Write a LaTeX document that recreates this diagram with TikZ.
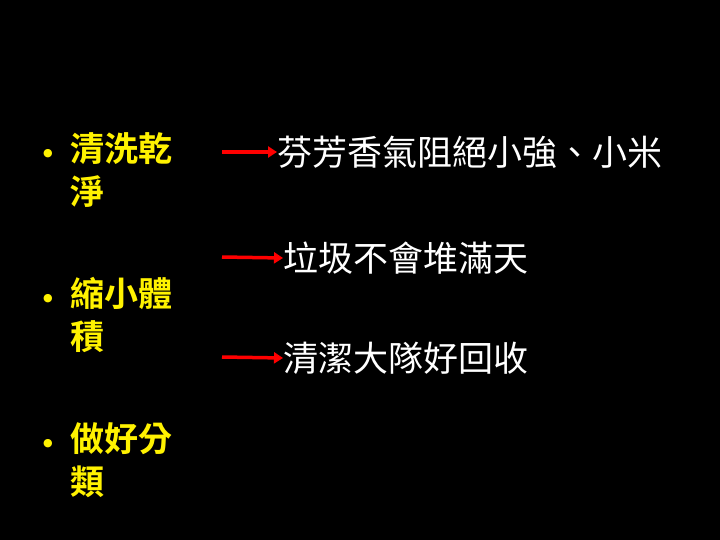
\documentclass[tikz,border=0pt]{standalone}
\usepackage{fontspec}
\newfontfamily\cjk{Noto Sans CJK TC}
\newfontfamily\cjkb{Noto Sans CJK TC Bold}
\newfontfamily\dvs{DejaVu Sans}
\usetikzlibrary{arrows.meta}
\begin{document}
\begin{tikzpicture}[x=1pt,y=-1pt,
  lt/.style={anchor=west,inner sep=0,text=yellow,font=\cjkb\fontsize{34}{43}\selectfont,align=left},
  rt/.style={anchor=west,inner sep=0,text=white,font=\cjk\fontsize{35}{40}\selectfont},
  bul/.style={anchor=center,inner sep=0,text=yellow,font=\dvs\fontsize{11}{11}\selectfont},
  arr/.style={draw=red,line width=3.5pt,-{Triangle[length=9pt,width=11pt]}}]
\fill[black] (0,0) rectangle (720,540);
\node[bul] (b1) at (48,154) {●};
\node[lt,anchor=north west] (l1) at (70,132) {清洗乾\\淨};
\node[bul] (b2) at (48,299) {●};
\node[lt,anchor=north west] (l2) at (70,277) {縮小體\\積};
\node[bul] (b3) at (48,444) {●};
\node[lt,anchor=north west] (l3) at (70,422) {做好分\\類};
\node[rt] (r1) at (277,152) {芬芳香氣阻絕小強、小米};
\node[rt] (r2) at (283,258) {垃圾不會堆滿天};
\node[rt] (r3) at (283,358) {清潔大隊好回收};
\coordinate (a1) at (222,152);
\coordinate (a2) at (222,257);
\coordinate (a3) at (222,357);
\draw[arr] (a1) -- (r1.west);
\draw[arr] (a2) -- (r2.west);
\draw[arr] (a3) -- (r3.west);
\end{tikzpicture}
\end{document}
